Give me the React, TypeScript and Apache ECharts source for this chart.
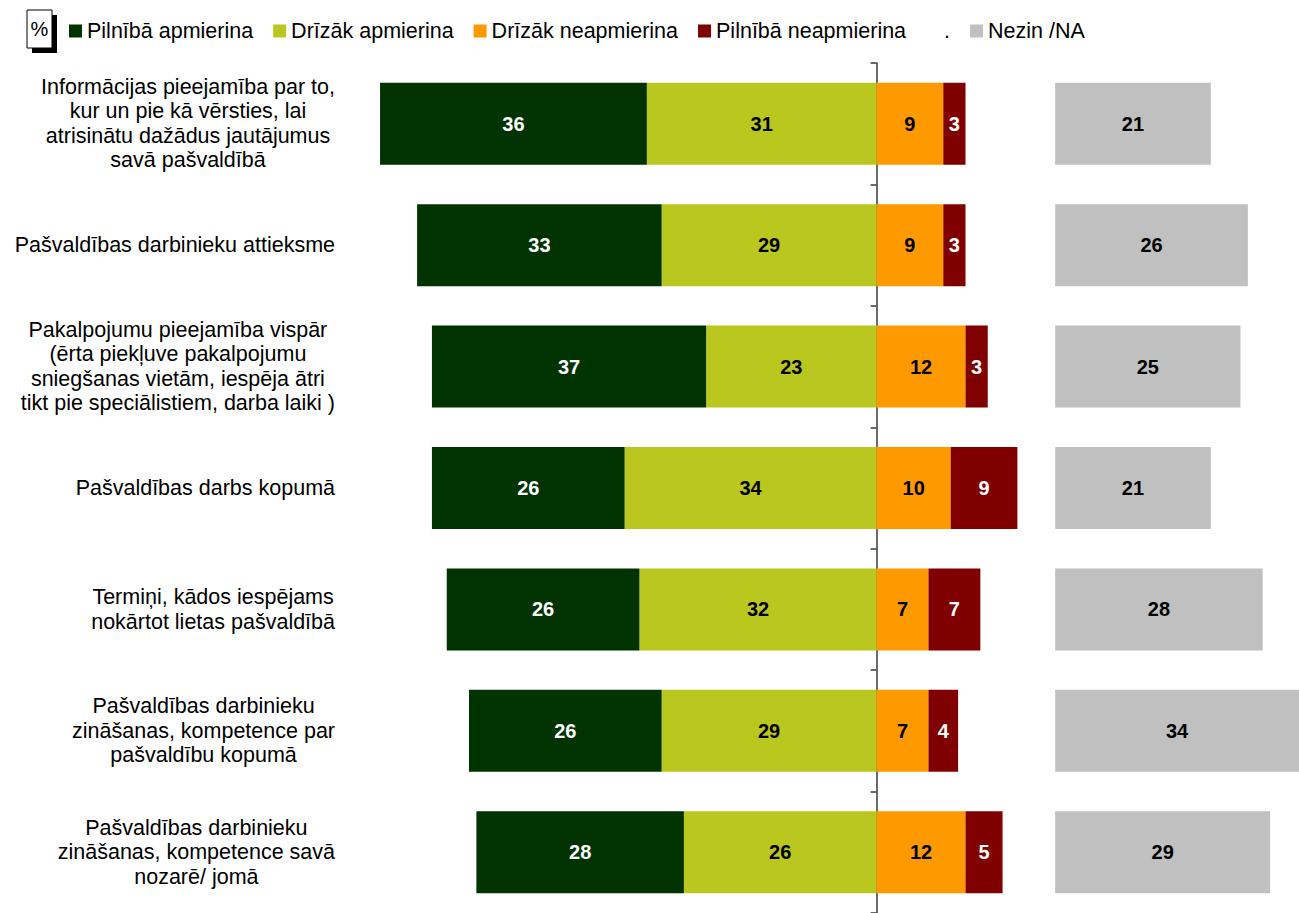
import React, { useEffect, useRef } from "react";
import * as echarts from "echarts";

const categories = [
  "Informācijas pieejamība par to,\nkur un pie kā vērsties, lai\natrisinātu dažādus jautājumus\nsavā pašvaldībā",
  "Pašvaldības darbinieku attieksme",
  "Pakalpojumu pieejamība vispār\n(ērta piekļuve pakalpojumu\nsniegšanas vietām, iespēja ātri\ntikt pie speciālistiem, darba laiki )",
  "Pašvaldības darbs kopumā",
  "Termiņi, kādos iespējams\nnokārtot lietas pašvaldībā",
  "Pašvaldības darbinieku\nzināšanas, kompetence par\npašvaldību kopumā",
  "Pašvaldības darbinieku\nzināšanas, kompetence savā\nnozarē/ jomā",
];

const fullySatisfied = [36, 33, 37, 26, 26, 26, 28];
const ratherSatisfied = [31, 29, 23, 34, 32, 29, 26];
const ratherDissatisfied = [9, 9, 12, 10, 7, 7, 12];
const fullyDissatisfied = [3, 3, 3, 9, 7, 4, 5];
const dontKnow = [21, 26, 25, 21, 28, 34, 29];

const seriesNames = [
  "Pilnībā apmierina",
  "Drīzāk apmierina",
  "Drīzāk neapmierina",
  "Pilnībā neapmierina",
  ".",
  "Nezin /NA",
];

const FONT = "'Liberation Sans', Arial, sans-serif";
const X_MIN = -72;
const X_MAX = 57;
const NA_OFFSET = 24.1;

export default function App() {
  const ref = useRef<HTMLDivElement>(null);

  useEffect(() => {
    if (!ref.current) return;
    const chart = echarts.init(ref.current, null, { renderer: "svg" });

    const label = (color: string) => ({
      show: true,
      position: "inside",
      color,
      fontFamily: FONT,
      fontSize: 20,
      fontWeight: "bold",
      formatter: (p: any) => String(Math.abs(p.value)),
    });

    const common = {
      type: "bar",
      barWidth: 82,
      barGap: "-100%",
      yAxisIndex: 0,
    };

    chart.setOption({
      animation: false,
      backgroundColor: "#ffffff",
      textStyle: { fontFamily: FONT },
      legend: {
        data: seriesNames,
        left: 64,
        top: 15,
        icon: "rect",
        itemWidth: 13,
        itemHeight: 13,
        itemGap: 20,
        textStyle: { fontFamily: FONT, fontSize: 21.5, color: "#000" },
        selectedMode: false,
      },
      graphic: [
        { type: "rect", shape: { x: 32, y: 15, width: 25, height: 38 }, style: { fill: "#000" } },
        {
          type: "rect",
          shape: { x: 27, y: 10, width: 25, height: 38 },
          style: { fill: "#fff", stroke: "#000", lineWidth: 1 },
        },
        {
          type: "text",
          x: 39.5,
          y: 29,
          style: {
            text: "%",
            fill: "#000",
            font: `20px ${FONT}`,
            textAlign: "center",
            textVerticalAlign: "middle",
          },
        },
      ],
      grid: { left: 343, right: 0, top: 63, height: 853, containLabel: false },
      xAxis: [
        { type: "value", min: X_MIN, max: X_MAX, show: false },
        { type: "value", min: X_MIN - NA_OFFSET, max: X_MAX - NA_OFFSET, show: false },
      ],
      yAxis: [
        {
          type: "category",
          data: categories,
          inverse: true,
          axisLine: { show: false, onZero: false },
          axisTick: { show: false },
          axisLabel: {
            interval: 0,
            margin: 8,
            align: "right",
            formatter: (v: string) =>
              v
                .split("\n")
                .map((l) => `{c|${l}}`)
                .join("\n"),
            rich: {
              c: {
                align: "center",
                fontFamily: FONT,
                fontSize: 21.5,
                lineHeight: 24.5,
                color: "#000",
              },
            },
          },
        },
        {
          type: "category",
          data: categories,
          inverse: true,
          position: "left",
          axisLine: {
            show: true,
            onZero: true,
            onZeroAxisIndex: 0,
            lineStyle: { color: "#3a3a3a", width: 1.5 },
          },
          axisTick: { show: true, length: 6, lineStyle: { color: "#3a3a3a", width: 1.5 } },
          axisLabel: { show: false },
        },
      ],
      series: [
        {
          ...common,
          name: "Drīzāk apmierina",
          stack: "s",
          xAxisIndex: 0,
          data: ratherSatisfied.map((v) => -v),
          itemStyle: { color: "#BAC71E" },
          label: label("#000"),
        },
        {
          ...common,
          name: "Pilnībā apmierina",
          stack: "s",
          xAxisIndex: 0,
          data: fullySatisfied.map((v) => -v),
          itemStyle: { color: "#003300" },
          label: label("#fff"),
        },
        {
          ...common,
          name: "Drīzāk neapmierina",
          stack: "s",
          xAxisIndex: 0,
          data: ratherDissatisfied,
          itemStyle: { color: "#FF9900" },
          label: label("#000"),
        },
        {
          ...common,
          name: "Pilnībā neapmierina",
          stack: "s",
          xAxisIndex: 0,
          data: fullyDissatisfied,
          itemStyle: { color: "#800000" },
          label: label("#fff"),
        },
        {
          ...common,
          name: ".",
          xAxisIndex: 0,
          data: [],
          itemStyle: { color: "rgba(0,0,0,0)" },
        },
        {
          ...common,
          name: "Nezin /NA",
          xAxisIndex: 1,
          data: dontKnow,
          itemStyle: { color: "#C0C0C0" },
          label: label("#000"),
        },
      ],
    });

    return () => chart.dispose();
  }, []);

  return (
    <div
      ref={ref}
      style={{ position: "absolute", left: 0, top: 0, width: 1299, height: 913, background: "#fff" }}
    />
  );
}
